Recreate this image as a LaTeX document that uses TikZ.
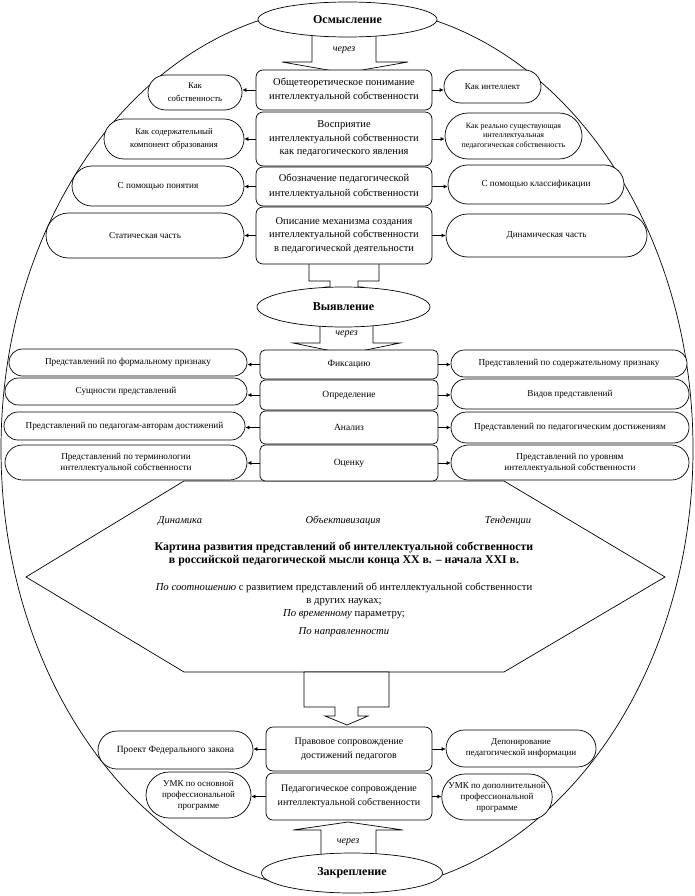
\documentclass[tikz,border=0pt]{standalone}
\usepackage{fontspec}
\setmainfont{Liberation Serif}
\usetikzlibrary{shapes.misc,shapes.geometric,arrows.meta}
\begin{document}
\begin{tikzpicture}[x=1pt,y=-1pt,line width=0.7pt,
  cbox/.style={draw, rounded corners=7pt, fill=white, align=center, inner sep=1pt, font=\fontsize{10.5}{14}\selectfont},
  cboxb/.style={cbox, rounded corners=5pt, font=\fontsize{9.5}{12}\selectfont},
  sbox/.style={draw, rounded rectangle, fill=white, align=center, inner sep=1pt, font=\fontsize{8.5}{11}\selectfont},
  sboxm/.style={sbox, font=\fontsize{9.2}{11}\selectfont},
  oval/.style={draw, ellipse, fill=white, inner sep=0pt, font=\bfseries\fontsize{12}{14}\selectfont},
  via/.style={font=\itshape\fontsize{10}{12}\selectfont, inner sep=0pt},
  lab/.style={font=\itshape\fontsize{10.5}{12}\selectfont, inner sep=0pt},
  barrow/.style={draw, fill=white, line join=miter},
  sarr/.style={-{Latex[length=4pt,width=4pt]}}
]
\useasboundingbox (0,0) rectangle (694,896);
% big frame ellipse
\node[draw, ellipse, minimum width=692pt, minimum height=886pt, inner sep=0pt] (frame) at (347,449) {};
% hexagon
\draw[fill=white] (184,481) -- (504,481) -- (665,577) -- (504,672) -- (184,672) -- (26,577) -- cycle;
% block arrows
\draw[barrow] (312,33) -- (312,62) -- (282,62) -- (345,73) -- (408,62) -- (376,62) -- (376,33) -- cycle;
\draw[barrow] (309,262) -- (309,281) -- (330,281) -- (330,287) -- (326,287) -- (344,297) -- (362,287) -- (358,287) -- (358,281) -- (379,281) -- (379,262) -- cycle;
\draw[barrow] (320,325) -- (320,343) -- (293,343) -- (346.5,354) -- (400,343) -- (373,343) -- (373,325) -- cycle;
\draw[barrow] (304,672) -- (304,707) -- (335,707) -- (335,716) -- (325,716) -- (347,725) -- (368,716) -- (358,716) -- (358,707) -- (389,707) -- (389,672) -- cycle;
\draw[barrow] (321,857) -- (321,830) -- (293,830) -- (348,822) -- (403,830) -- (376,830) -- (376,857) -- cycle;
% ovals
\node[oval, minimum width=179pt, minimum height=35pt] (e1) at (347.5,19.5) {Осмысление};
\node[oval, minimum width=173pt, minimum height=40pt] (e2) at (343.5,307) {Выявление};
\node[oval, minimum width=181pt, minimum height=40pt] (e3) at (352,873) {Закрепление};
\node[via] (v1) at (344,50) {через};
\node[via] (v2) at (346.5,334) {через};
\node[via] (v3) at (348,842) {через};
% section 1
\node[cbox, minimum width=176pt, minimum height=40pt] (c1) at (344,90) {Общетеоретическое понимание\\интеллектуальной собственности};
\node[sbox, minimum width=96pt, minimum height=35pt, font=\fontsize{8.8}{13}\selectfont] (l1) at (195,92.5) {Как\\собственность};
\node[sbox, minimum width=99pt, minimum height=33pt, font=\fontsize{9}{11}\selectfont] (r1) at (492.5,86.5) {Как интеллект};
\node[cbox, minimum width=176pt, minimum height=54pt, font=\fontsize{10.5}{13.5}\selectfont] (c2) at (344,139) {Восприятие\\интеллектуальной собственности\\как педагогического явления};
\node[sbox, minimum width=142pt, minimum height=40pt, font=\fontsize{8.7}{13}\selectfont] (l2) at (174,139) {Как содержательный\\компонент образования};
\node[sbox, minimum width=139pt, minimum height=46pt, font=\fontsize{8}{9.5}\selectfont] (r2) at (513.5,136) {Как реально существующая\\интеллектуальная\\педагогическая собственность};
\node[cbox, minimum width=176pt, minimum height=39pt, font=\fontsize{10.5}{15}\selectfont] (c3) at (344,186.5) {Обозначение педагогической\\интеллектуальной собственности};
\node[sbox, minimum width=174pt, minimum height=40pt, font=\fontsize{9.2}{11}\selectfont] (l3) at (158,186) {С помощью понятия};
\node[sbox, minimum width=178pt, minimum height=39pt, font=\fontsize{9.2}{11}\selectfont] (r3) at (536,184.5) {С помощью классификации};
\node[cbox, minimum width=176pt, minimum height=57pt, font=\fontsize{10.5}{13.5}\selectfont] (c4) at (344,235.5) {Описание механизма создания\\интеллектуальной собственности\\в педагогической деятельности};
\node[sbox, minimum width=200pt, minimum height=45pt, font=\fontsize{9.2}{11}\selectfont] (l4) at (145,235.5) {Статическая часть};
\node[sbox, minimum width=203pt, minimum height=43pt, font=\fontsize{9.2}{11}\selectfont] (r4) at (546.5,235.5) {Динамическая часть};
% section 2
\node[cboxb, minimum width=178pt, minimum height=29pt] (c7) at (349,364.5) {Фиксацию};
\node[cboxb, minimum width=178pt, minimum height=30pt] (c8) at (349,395) {Определение};
\node[cboxb, minimum width=178pt, minimum height=33pt] (c9) at (349,427.5) {Анализ};
\node[cboxb, minimum width=178pt, minimum height=36pt] (c10) at (349,463) {Оценку};
\node[sboxm, minimum width=240pt, minimum height=27pt] (l5) at (128,362.5) {Представлений по формальному признаку};
\node[sboxm, minimum width=244pt, minimum height=27pt] (l6) at (126,391.5) {Сущности представлений};
\node[sboxm, minimum width=243pt, minimum height=28pt] (l7) at (124.5,426) {Представлений по педагогам-авторам достижений};
\node[sboxm, minimum width=244pt, minimum height=35pt] (l8) at (126,462.5) {Представлений по терминологии\\интеллектуальной собственности};
\node[sboxm, minimum width=238pt, minimum height=27pt] (r5) at (569,363.5) {Представлений по содержательному признаку};
\node[sboxm, minimum width=240pt, minimum height=30pt] (r6) at (570,394) {Видов представлений};
\node[sboxm, minimum width=240pt, minimum height=31pt] (r7) at (570,427.5) {Представлений по педагогическим достижениям};
\node[sboxm, minimum width=240pt, minimum height=35pt] (r8) at (570,462.5) {Представлений по уровням\\интеллектуальной собственности};
% hexagon texts
\node[lab] (h1) at (180,521) {Динамика};
\node[lab] (h2) at (343,521) {Объективизация};
\node[lab] (h3) at (508,521) {Тенденции};
\node[align=center, inner sep=0pt, font=\bfseries\fontsize{11.8}{13.5}\selectfont] (h4) at (344,554) {Картина развития представлений об интеллектуальной собственности\\в российской педагогической мысли конца XX в. – начала XXI в.};
\node[align=center, inner sep=0pt, font=\fontsize{10.7}{13}\selectfont] (h5) at (344,610) {\textit{По соотношению} с развитием представлений об интеллектуальной собственности\\в других науках;\\\textit{По временному} параметру;\\[5pt]\textit{По направленности}};
% section 3
\node[cbox, minimum width=166pt, minimum height=44pt, font=\fontsize{10}{14}\selectfont] (c5) at (349,749) {Правовое сопровождение\\достижений педагогов};
\node[cbox, minimum width=166pt, minimum height=47pt, font=\fontsize{10}{14}\selectfont] (c6) at (349,796.5) {Педагогическое сопровождение\\интеллектуальной собственности};
\node[sbox, minimum width=157pt, minimum height=38pt, font=\fontsize{9.5}{11}\selectfont] (l9) at (175.5,750) {Проект Федерального закона};
\node[sbox, minimum width=152pt, minimum height=37pt, font=\fontsize{9}{11}\selectfont] (r9) at (521,748.5) {Депонирование\\педагогической информации};
\node[sbox, minimum width=107pt, minimum height=46pt, font=\fontsize{9}{11}\selectfont] (l10) at (198.5,795) {УМК по основной\\профессиональной\\программе};
\node[sbox, minimum width=104pt, minimum height=46pt, font=\fontsize{9}{11}\selectfont] (r10) at (497,797) {УМК по дополнительной\\профессиональной\\программе};
% small arrows
\foreach \c/\l/\r in {c1/l1/r1, c2/l2/r2, c3/l3/r3, c4/l4/r4, c7/l5/r5, c8/l6/r6, c9/l7/r7, c10/l8/r8, c5/l9/r9, c6/l10/r10}{
  \draw[sarr] (\c.west) -- (\c.west -| \l.east);
  \draw[sarr] (\c.east) -- (\c.east -| \r.west);
}
\end{tikzpicture}
\end{document}
